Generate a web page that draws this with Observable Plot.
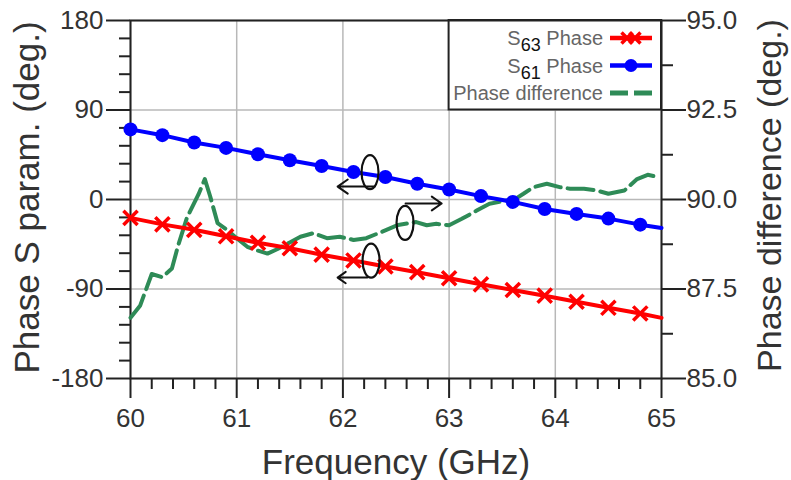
<!DOCTYPE html>
<html>
<head>
<meta charset="utf-8">
<script src="https://cdn.jsdelivr.net/npm/d3@7"></script>
<script src="https://cdn.jsdelivr.net/npm/@observablehq/plot@0.6"></script>
<style>
  html, body { margin: 0; padding: 0; background: #fff; }
  svg { font-family: "Liberation Sans", Arial, sans-serif; }
</style>
</head>
<body>
<div id="chart"></div>
<script>
// Frequency points (GHz); markers at every point except the final 65 GHz end of line
const freq = [60, 60.3, 60.6, 60.9, 61.2, 61.5, 61.8, 62.1, 62.4, 62.7, 63.0, 63.3, 63.6, 63.9, 64.2, 64.5, 64.8, 65];
// S61 phase (deg.)
const s61 = [70.5, 64.7, 57.3, 51.9, 45.5, 39.4, 33.7, 27.6, 22.6, 15.8, 10.0, 3.4, -2.4, -9.5, -14.5, -19.2, -25.3, -28.7];
// S63 phase (deg.)
const s63 = [-18.5, -25, -30.5, -37, -43.5, -49, -55.5, -61.3, -67.4, -73.1, -79.2, -85.3, -91, -96.7, -102.8, -108.9, -114.6, -119];

// Phase difference (deg.), right axis
const diffFreq = [60, 60.09, 60.2, 60.3, 60.39, 60.45, 60.53, 60.64, 60.7, 60.75, 60.82, 60.91, 61.0, 61.1, 61.19, 61.29, 61.38, 61.5, 61.6, 61.72, 61.85, 61.97, 62.1, 62.22, 62.41, 62.52, 62.69, 62.79, 62.88, 63.0, 63.12, 63.26, 63.38, 63.54, 63.61, 63.7, 63.79, 63.92, 64.05, 64.14, 64.27, 64.39, 64.5, 64.65, 64.77, 64.87, 64.98];
const diffVal = [86.7, 87.03, 87.92, 87.83, 88.07, 88.73, 89.48, 90.14, 90.57, 90.09, 89.34, 89.15, 88.92, 88.68, 88.58, 88.49, 88.61, 88.8, 88.96, 89.06, 88.92, 88.96, 88.87, 88.92, 89.15, 89.29, 89.37, 89.28, 89.32, 89.28, 89.46, 89.69, 89.88, 89.97, 89.99, 90.16, 90.34, 90.44, 90.34, 90.30, 90.30, 90.25, 90.16, 90.25, 90.57, 90.69, 90.62];

// Axis ticks
const xTicks = [60, 61, 62, 63, 64, 65];
const xMinor = [60.2, 60.4, 60.6, 60.8, 61.2, 61.4, 61.6, 61.8, 62.2, 62.4, 62.6, 62.8, 63.2, 63.4, 63.6, 63.8, 64.2, 64.4, 64.6, 64.8];
const yTicks = [-180, -90, 0, 90, 180];
const yMinor = [-162, -144, -126, -108, -72, -54, -36, -18, 18, 36, 54, 72, 108, 126, 144, 162];
const rightTicks = [85, 87.5, 90, 92.5, 95];
const rightMinor = [86.25, 88.75, 91.25, 93.75];

// Right-axis mapping onto the left scale: 90.0 <-> 0 deg, 2.5 <-> 90 deg
const toLeft = v => (v - 90) * 36;

// Annotation positions (freq, deg on left scale)
const ellipses = [
  {f: 62.26, y: 27},
  {f: 62.59, y: -24},
  {f: 62.27, y: -62}
];
const arrows = [
  {f1: 62.30, f2: 61.95, y: 13},
  {f1: 62.59, f2: 62.93, y: -4},
  {f1: 62.23, f2: 61.95, y: -78.5}
];

const lineData = freq.map((f, i) => ({f, s61: s61[i], s63: s63[i]}));
const markerData = lineData.filter(d => d.f < 65);
const diffData = diffFreq.map((f, i) => ({f, v: diffVal[i]}));

const FONT = "Liberation Sans, Arial, sans-serif";

const plot = Plot.plot({
  width: 791,
  height: 480,
  marginLeft: 130,
  marginRight: 130,
  marginTop: 20,
  marginBottom: 102,
  style: {fontFamily: FONT, background: "#fff"},
  x: {domain: [60, 65]},
  y: {domain: [-180, 180]},
  marks: [
    Plot.gridX(xTicks, {stroke: "#b8b8b8", strokeOpacity: 1, strokeWidth: 1.5}),
    Plot.gridY(yTicks, {stroke: "#b8b8b8", strokeOpacity: 1, strokeWidth: 1.5}),
    Plot.rect([0], {x1: () => 63, x2: () => 65, y1: () => 90, y2: () => 180, fill: "white", stroke: "#222", strokeWidth: 2}),
    // left axis
    Plot.axisY({anchor: "left", ticks: yTicks, tickSize: 24, tickPadding: 3, fontSize: 26, label: null, tickFormat: d => String(d), stroke: "#222", strokeWidth: 2, fill: "#333"}),
    Plot.axisY({anchor: "left", ticks: yMinor, tickSize: 11, tickFormat: () => "", label: null, stroke: "#222", strokeWidth: 2}),
    // right axis
    Plot.axisY({anchor: "right", ticks: rightTicks.map(toLeft), tickFormat: d => (d / 36 + 90).toFixed(1), tickSize: 24, tickPadding: 1, fontSize: 26, label: null, stroke: "#222", strokeWidth: 2, fill: "#333"}),
    Plot.axisY({anchor: "right", ticks: rightMinor.map(toLeft), tickSize: 11, tickFormat: () => "", label: null, stroke: "#222", strokeWidth: 2}),
    // bottom axis
    Plot.axisX({anchor: "bottom", ticks: xTicks, tickSize: 20, tickPadding: 10, fontSize: 26, label: null, tickFormat: d => String(d), stroke: "#222", strokeWidth: 2, fill: "#333"}),
    Plot.axisX({anchor: "bottom", ticks: xMinor, tickSize: 11, tickFormat: () => "", label: null, stroke: "#222", strokeWidth: 2}),
    Plot.frame({stroke: "#222", strokeWidth: 2}),
    // data
    Plot.line(diffData, {x: "f", y: d => toLeft(d.v), stroke: "#2e8b57", strokeWidth: 4, strokeDasharray: "26,7", curve: "linear"}),
    Plot.line(lineData, {x: "f", y: "s61", stroke: "#0000ff", strokeWidth: 4}),
    Plot.dot(markerData, {x: "f", y: "s61", fill: "#0000ff", r: 7, symbol: "circle"}),
    Plot.line(lineData, {x: "f", y: "s63", stroke: "#ff0000", strokeWidth: 4}),
    Plot.dot(markerData, {x: "f", y: "s63", stroke: "#ff0000", strokeWidth: 3.5, r: 6.5, symbol: "times"}),
    // annotations
    Plot.arrow(arrows, {x1: "f1", x2: "f2", y1: "y", y2: "y", stroke: "#111", strokeWidth: 2, headLength: 10, headAngle: 70}),
    // titles
    Plot.text(["Frequency (GHz)"], {frameAnchor: "bottom", dy: 84, fontSize: 35, fill: "#333", lineAnchor: "middle", textAnchor: "middle"}),
    Plot.text(["Phase S param. (deg.)"], {frameAnchor: "left", dx: -103, dy: -2, rotate: -90, fontSize: 35, fill: "#333", lineAnchor: "middle", textAnchor: "middle"}),
    Plot.text(["Phase difference (deg.)"], {frameAnchor: "right", dx: 109, dy: -4, rotate: -90, fontSize: 34, fill: "#333", lineAnchor: "middle", textAnchor: "middle"})
  ]
});

document.getElementById("chart").appendChild(plot);

// Ellipses around the curves (positioned via Plot's scales)
const sx = plot.scale("x"), sy = plot.scale("y");
const svg = d3.select(plot);
const ann = svg.append("g");
for (const e of ellipses) {
  ann.append("ellipse")
    .attr("cx", sx.apply(e.f)).attr("cy", sy.apply(e.y))
    .attr("rx", 8.5).attr("ry", 17)
    .attr("fill", "none").attr("stroke", "#111").attr("stroke-width", 2.2);
}

// Legend inside the top-right box
const lx0 = sx.apply(63), lx1 = sx.apply(65), ly0 = sy.apply(180);
const leg = svg.append("g").attr("font-family", FONT);
const rows = [
  {label: "S", sub: "63", rest: " Phase", color: "#ff0000", kind: "times"},
  {label: "S", sub: "61", rest: " Phase", color: "#0000ff", kind: "circle"},
  {label: "Phase difference", sub: null, rest: "", color: "#2e8b57", kind: "dash"}
];
rows.forEach((r, i) => {
  const base = ly0 + 25 + i * 27.5;
  const t = leg.append("text").attr("x", lx1 - 58).attr("y", base)
    .attr("text-anchor", "end").attr("font-size", 20).attr("fill", "#666");
  if (r.sub) {
    t.append("tspan").text(r.label);
    t.append("tspan").attr("dy", 6).attr("font-size", 18).attr("fill", "#111").text(r.sub);
    t.append("tspan").attr("dy", -6).text(r.rest);
  } else {
    t.text(r.label);
  }
  const cy = base - 7;
  const xa = lx1 - 51, xb = lx1 - 9, xm = (xa + xb) / 2;
  if (r.kind === "dash") {
    leg.append("line").attr("x1", xa).attr("x2", xb).attr("y1", cy).attr("y2", cy)
      .attr("stroke", r.color).attr("stroke-width", 5).attr("stroke-dasharray", "18,6");
  } else {
    leg.append("line").attr("x1", xa).attr("x2", xb).attr("y1", cy).attr("y2", cy)
      .attr("stroke", r.color).attr("stroke-width", 4.5);
    if (r.kind === "circle") {
      leg.append("circle").attr("cx", xm).attr("cy", cy).attr("r", 6.5).attr("fill", r.color);
    } else {
      const s = 5.5;
      for (const dxm of [-4, 4]) {
        leg.append("path").attr("d", `M${xm + dxm - s},${cy - s}L${xm + dxm + s},${cy + s}M${xm + dxm - s},${cy + s}L${xm + dxm + s},${cy - s}`)
          .attr("stroke", r.color).attr("stroke-width", 3.5).attr("fill", "none");
      }
    }
  }
});
</script>
</body>
</html>
